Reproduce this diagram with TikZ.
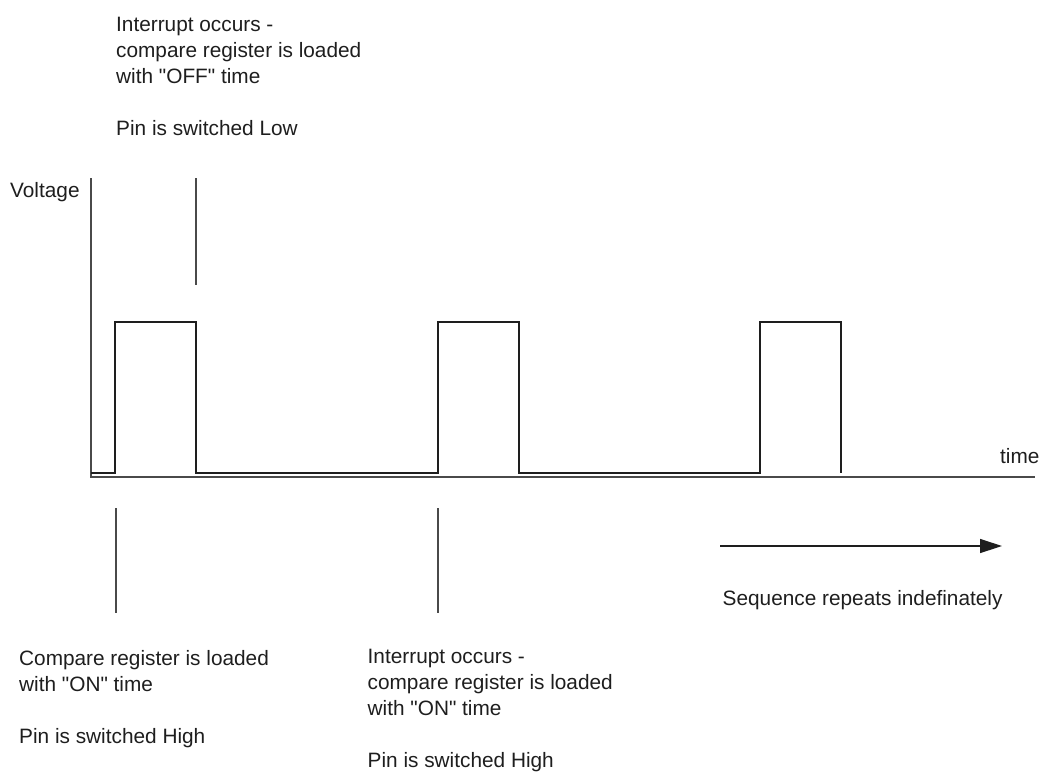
\documentclass[tikz,border=0pt]{standalone}
\usepackage{fontspec}
\newfontfamily\lsans{Liberation Sans}
\usetikzlibrary{arrows.meta}
\definecolor{ink}{HTML}{1E1E1E}
\definecolor{axis}{HTML}{4A4A4A}
\tikzset{
  lbl/.style={anchor=base west, inner sep=0pt, align=left, text=ink,
    font=\lsans\fontsize{20.8pt}{26pt}\selectfont},
  axisline/.style={draw=axis, line width=1.3pt},
  wave/.style={draw=ink, line width=2.2pt, line join=miter},
  marker/.style={draw=axis, line width=1.1pt},
  arrowline/.style={draw=ink, line width=1.3pt, -{Triangle[length=22pt,width=14pt]}}
}
\begin{document}
\begin{tikzpicture}[x=1pt,y=-1pt]
\useasboundingbox (0,0) rectangle (1040,772);
% axes
\coordinate (O) at (91,477);
\coordinate (ytop) at (91,178);
\coordinate (xend) at (1035,477);
\draw[axisline] (ytop) -- (O) -- (xend);
% waveform
\draw[wave] (91,473) -- (115,473) -- (115,322) -- (196,322) -- (196,473)
  -- (438,473) -- (438,322) -- (519,322) -- (519,473)
  -- (760,473) -- (760,322) -- (841,322) -- (841,473);
% marker lines
\coordinate (m1a) at (196,178); \coordinate (m1b) at (196,285);
\coordinate (m2a) at (116,508); \coordinate (m2b) at (116,613);
\coordinate (m3a) at (438,508); \coordinate (m3b) at (438,613);
\draw[marker] (m1a) -- (m1b);
\draw[marker] (m2a) -- (m2b);
\draw[marker] (m3a) -- (m3b);
% labels (anchor = baseline of last line)
\node[lbl] (voltage) at (10,197) {Voltage};
\node[lbl] (time) at (1000,463) {time};
\node[lbl] (top) at (116,135.7) {Interrupt occurs -\\compare register is loaded\\with "OFF" time\\[26pt]Pin is switched Low};
\node[lbl] (bl) at (19,743.7) {Compare register is loaded\\with "ON" time\\[26pt]Pin is switched High};
\node[lbl] (br) at (367.5,767.3) {Interrupt occurs -\\compare register is loaded\\with "ON" time\\[26pt]Pin is switched High};
% repeat arrow
\coordinate (ra) at (720,546);
\coordinate (rb) at (1002,546);
\draw[arrowline] (ra) -- (rb);
\node[lbl] (seq) at (722.5,605) {Sequence repeats indefinately};
\end{tikzpicture}
\end{document}
